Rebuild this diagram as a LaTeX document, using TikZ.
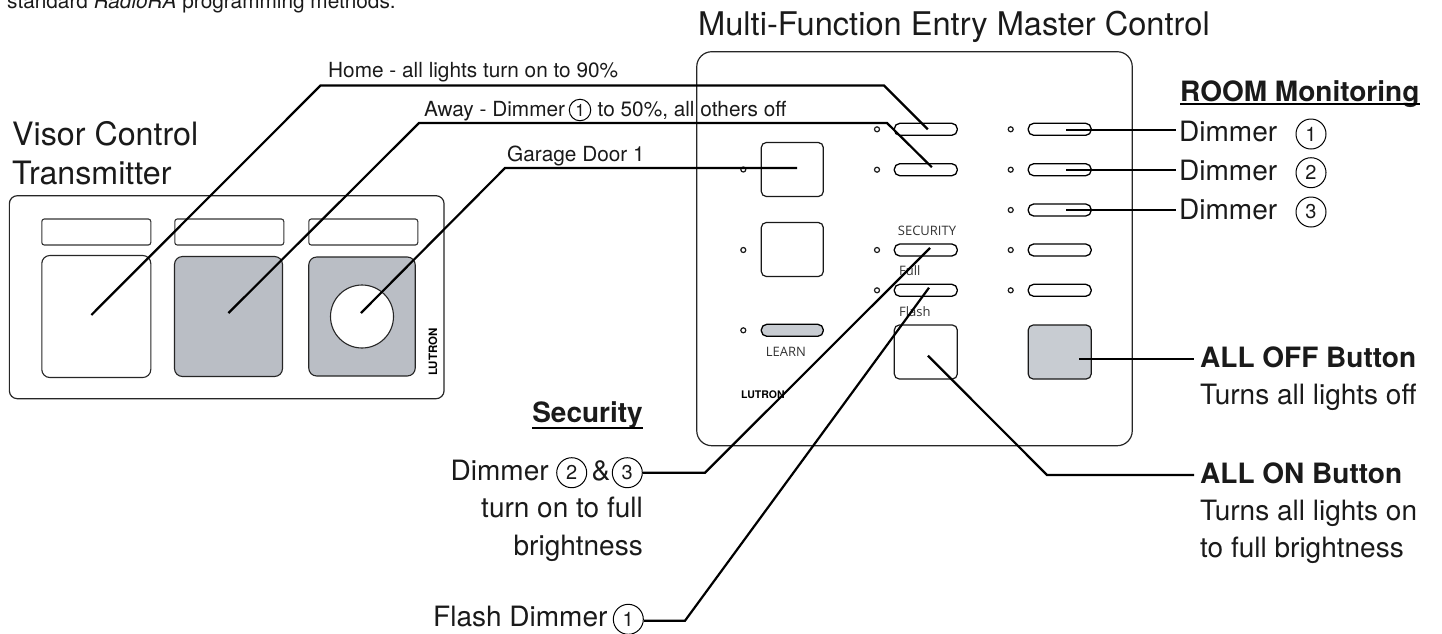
\documentclass[tikz,border=0pt]{standalone}
\usepackage{fontspec}
\setmainfont{TeX Gyre Heros}
\newfontfamily\smallfont{Open Sans}
\definecolor{panelgray}{HTML}{BABEC5}
\definecolor{keygray}{HTML}{C8CCD2}
\definecolor{inkgray}{HTML}{1A1A1A}
\tikzset{
  panel/.style={rectangle, rounded corners=8pt, line width=1.2pt, draw=black!85, fill=white},
  visortop/.style={rectangle, rounded corners=2.5pt, minimum width=109pt, minimum height=26pt, line width=1.1pt, draw=black!80},
  visorkey/.style={rectangle, rounded corners=8pt, line width=1.1pt, draw=black!85},
  bigkey/.style={rectangle, rounded corners=5pt, minimum width=62pt, minimum height=54pt, line width=1.2pt, draw=black!90},
  pill/.style={rectangle, rounded corners=5.5pt, minimum width=63pt, minimum height=12pt, line width=1.3pt, draw=black},
  led/.style={circle, minimum size=5pt, line width=1.2pt, draw=black!90},
  leader/.style={line width=2.2pt, color=black},
  bigtext/.style={font=\fontsize{32.2}{34}\selectfont, text=inkgray},
  bodytext/.style={font=\fontsize{28}{30}\selectfont, text=inkgray},
  headtext/.style={font=\fontsize{28}{30}\selectfont\bfseries, text=inkgray},
  leadtext/.style={font=\fontsize{20.8}{22}\selectfont, text=inkgray},
  keytext/.style={font=\smallfont\fontsize{13}{14}\selectfont, text=black!80},
  logotext/.style={font=\fontsize{10.5}{12}\selectfont\bfseries, text=black},
  numring/.style={circle, minimum size=30pt, line width=1pt, draw=black, font=\fontsize{20}{22}\selectfont, text=inkgray},
  numsmall/.style={numring, minimum size=21.5pt, font=\fontsize{17}{18}\selectfont},
  headrule/.style={line width=1.4pt, color=black}
}
\begin{document}
\begin{tikzpicture}
[every node/.style={inner sep=0pt}]
\useasboundingbox (0pt, 0pt) rectangle (1442pt, -633pt);
% visor control
\node (visor) [panel, minimum width=434.7pt, minimum height=203pt] at (226.7pt, -297.2pt) {};
\node (vtop1) [visortop] at (96.3pt, -232pt) {};
\node (vtop2) [visortop] at (229.3pt, -232pt) {};
\node (vtop3) [visortop] at (363.3pt, -232pt) {};
\node (vkey1) [visorkey, minimum width=109pt, minimum height=122pt] at (96.3pt, -316.5pt) {};
\node (vkey2) [visorkey, minimum width=108pt, minimum height=120pt, fill=panelgray] at (228.5pt, -316.5pt) {};
\node (vkey3) [visorkey, minimum width=106.5pt, minimum height=119pt, fill=panelgray] at (362pt, -316.5pt) {};
\node (vhole) [circle, minimum size=63pt, line width=1.1pt, draw=black!85, fill=white] at (362pt, -316.5pt) {};
\node (vlogo) [logotext, rotate=90, font=\fontsize{11.5}{12}\selectfont\bfseries] at (433pt, -352pt) {LUTRON};
% master control
\node (master) [panel, rounded corners=15pt, minimum width=435.5pt, minimum height=394pt] at (914.5pt, -248.7pt) {};
\node (key1) [bigkey] at (792.3pt, -169.5pt) {};
\node (key2) [bigkey] at (792.3pt, -249.5pt) {};
\node (learn) [pill, minimum width=62pt, fill=keygray] at (792.3pt, -330.3pt) {};
\node (pillhome) [pill] at (925.8pt, -129.3pt) {};
\node (pillaway) [pill] at (925.8pt, -169.7pt) {};
\node (pillsec) [pill] at (925.8pt, -250pt) {};
\node (pillflash) [pill] at (925.8pt, -290.3pt) {};
\node (pillr1) [pill] at (1059.7pt, -129.3pt) {};
\node (pillr2) [pill] at (1059.7pt, -169.7pt) {};
\node (pillr3) [pill] at (1059.7pt, -210pt) {};
\node (pillr4) [pill] at (1059.7pt, -250pt) {};
\node (pillr5) [pill] at (1059.7pt, -290.3pt) {};
\node (keyon) [bigkey, minimum width=63pt] at (925.8pt, -352pt) {};
\node (keyoff) [bigkey, minimum width=63pt, fill=keygray] at (1059.7pt, -352pt) {};
\node (led1) [led] at (743.3pt, -169.5pt) {};
\node (led2) [led] at (743.3pt, -250pt) {};
\node (led3) [led] at (743.3pt, -330.3pt) {};
\node (led4) [led] at (877pt, -129.3pt) {};
\node (led5) [led] at (877pt, -169.7pt) {};
\node (led6) [led] at (877pt, -250pt) {};
\node (led7) [led] at (877pt, -290.3pt) {};
\node (led8) [led] at (1010.7pt, -129.3pt) {};
\node (led9) [led] at (1010.7pt, -169.7pt) {};
\node (led10) [led] at (1010.7pt, -210pt) {};
\node (led11) [led] at (1010.7pt, -250pt) {};
\node (led12) [led] at (1010.7pt, -290.3pt) {};
\node (tsec) [keytext, anchor=base] at (927pt, -235pt) {SECURITY};
\node (tfull) [keytext, anchor=base west] at (899pt, -275pt) {Full};
\node (tflash) [keytext, anchor=base west] at (899pt, -316pt) {Flash};
\node (tlearn) [keytext, anchor=base] at (786pt, -356.7pt) {LEARN};
\node (mlogo) [logotext, anchor=base west] at (741pt, -398pt) {LUTRON};
% texts
\node (tintro) [leadtext, anchor=base west] at (7pt, -8pt) {standard \emph{RadioRA} programming methods.};
\node (tmaster) [bigtext, font=\fontsize{32.6}{34}\selectfont, anchor=base west] at (698pt, -35pt) {Multi-Function Entry Master Control};
\node (tvisor1) [bigtext, anchor=base west] at (12pt, -145pt) {Visor Control};
\node (tvisor2) [bigtext, anchor=base west] at (12pt, -184.3pt) {Transmitter};
\node (thome) [leadtext, anchor=base west] at (328pt, -77.7pt) {Home - all lights turn on to 90\%};
\node (taway1) [leadtext, anchor=base west] at (424pt, -116pt) {Away - Dimmer};
\node (caway) [numsmall] at (580pt, -110pt) {1};
\node (taway2) [leadtext, anchor=base west] at (597.5pt, -116pt) {to 50\%, all others off};
\node (tgarage) [leadtext, anchor=base west] at (507pt, -161.7pt) {Garage Door 1};
\node (troom) [headtext, anchor=base west] at (1180pt, -101pt) {ROOM Monitoring};
\node (tdim1) [bodytext, anchor=base west] at (1179pt, -141pt) {Dimmer};
\node (cdim1) [numring] at (1311pt, -134pt) {1};
\node (tdim2) [bodytext, anchor=base west] at (1179pt, -180pt) {Dimmer};
\node (cdim2) [numring] at (1311pt, -172.7pt) {2};
\node (tdim3) [bodytext, anchor=base west] at (1179pt, -219.3pt) {Dimmer};
\node (cdim3) [numring] at (1311pt, -212pt) {3};
\node (tsecurity) [headtext, anchor=base east] at (643pt, -422.7pt) {Security};
\node (tsec1) [bodytext, anchor=base west] at (450.5pt, -480pt) {Dimmer};
\node (csec2) [numring] at (571.7pt, -472.7pt) {2};
\node (tamp) [bodytext, anchor=base] at (601pt, -480pt) {\&};
\node (csec3) [numring] at (627.3pt, -472.7pt) {3};
\node (tsec2) [bodytext, anchor=base east] at (643pt, -517pt) {turn on to full};
\node (tsec3) [bodytext, anchor=base east] at (643pt, -555pt) {brightness};
\node (tflash1) [bodytext, anchor=base west] at (433pt, -626.7pt) {Flash Dimmer};
\node (cflash) [numring] at (628.3pt, -619.3pt) {1};
\node (toff1) [headtext, anchor=base west] at (1200pt, -367.3pt) {ALL OFF Button};
\node (toff2) [bodytext, anchor=base west] at (1200pt, -404pt) {Turns all lights off};
\node (ton1) [headtext, anchor=base west] at (1200pt, -483.3pt) {ALL ON Button};
\node (ton2) [bodytext, anchor=base west] at (1200pt, -520pt) {Turns all lights on};
\node (ton3) [bodytext, anchor=base west] at (1200pt, -557.3pt) {to full brightness};
\draw [headrule] ([yshift=-3pt]troom.base west) -- ([yshift=-3pt]troom.base east);
\draw [headrule] ([yshift=-5.3pt]tsecurity.base west) -- ([yshift=-5.3pt]tsecurity.base east);
% bends
\coordinate (bhome1) at (320.5pt, -85.5pt);
\coordinate (bhome2) at (884pt, -85.5pt);
\coordinate (baway1) at (419pt, -123pt);
\coordinate (baway2) at (887pt, -123pt);
\coordinate (bgarage) at (505pt, -168pt);
\coordinate (bsec) at (705pt, -472.7pt);
\coordinate (bflash) at (685pt, -620.7pt);
\coordinate (bon) at (1047pt, -475pt);
% leaders
\draw [leader] ([shift={(-5pt,1.5pt)}]vkey1.center) -- (bhome1) -- (bhome2) -- ([xshift=2pt]pillhome.center);
\draw [leader] ([yshift=3.5pt]vkey2.center) -- (baway1) -- (baway2) -- ([shift={(6pt,2.5pt)}]pillaway.center);
\draw [leader] ([shift={(-1pt,3.5pt)}]vhole.center) -- (bgarage) -- ([shift={(4.7pt,1.5pt)}]key1.center);
\draw [leader] ([shift={(4.2pt,2pt)}]pillsec.center) -- (bsec) -- (csec3.east |- bsec);
\draw [leader] ([shift={(3.2pt,2.6pt)}]pillflash.center) -- (bflash) -- (cflash.east |- bflash);
\draw [leader] ([shift={(2.2pt,-3.7pt)}]keyon.center) -- (bon) -- ([xshift=-6pt]ton1.west |- bon);
\draw [leader] ([shift={(19.3pt,-7pt)}]keyoff.center) -- ([shift={(-6pt,-7pt)}]keyoff.center -| toff1.west);
\draw [leader] ([shift={(6.3pt,-0.7pt)}]pillr1.center) -- ([shift={(-3pt,-0.7pt)}]pillr1.center -| tdim1.west);
\draw [leader] ([xshift=6.3pt]pillr2.center) -- ([xshift=-3pt]pillr2.center -| tdim2.west);
\draw [leader] ([xshift=6.3pt]pillr3.center) -- ([xshift=-3pt]pillr3.center -| tdim3.west);
\end{tikzpicture}
\end{document}
